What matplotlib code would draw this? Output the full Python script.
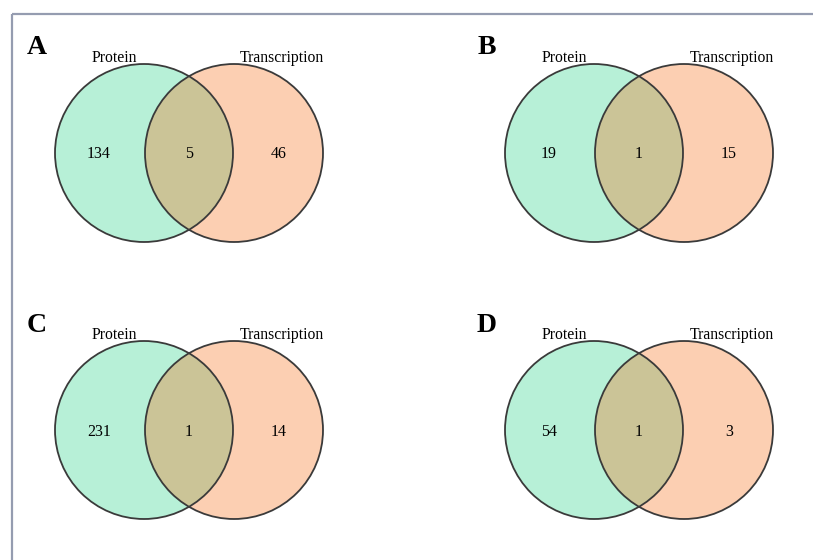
import matplotlib
matplotlib.use("Agg")
import matplotlib.pyplot as plt
from matplotlib.patches import Circle

panel_letters = ["A", "B", "C", "D"]
set_names = ["Protein", "Transcription"]
protein_only = [134, 19, 231, 54]
shared = [5, 1, 1, 1]
transcription_only = [46, 15, 14, 3]

fig = plt.figure(figsize=(8.13, 5.60), dpi=100)
ax = fig.add_axes([0, 0, 1, 1])
ax.set_xlim(0, 813)
ax.set_ylim(560, 0)
ax.set_aspect("equal")
ax.axis("off")

# frame lines (left and top)
border = "#959cb0"
ax.plot([11.5, 11.5], [13.5, 560], color=border, lw=1.6, solid_capstyle="butt")
ax.plot([11.5, 813], [13.5, 13.5], color=border, lw=1.6, solid_capstyle="butt")

green = "#b7f0d7"
orange = "#fccfb2"
olive = "#cbc497"
edge = "#3a3a3a"
serif = ["Liberation Serif", "DejaVu Serif"]

origins = [(144, 153), (594, 153), (144, 430), (594, 430)]
r = 89
d = 90

for i, (cx, cy) in enumerate(origins):
    c1 = Circle((cx, cy), r, facecolor=green, edgecolor="none", zorder=1)
    c2 = Circle((cx + d, cy), r, facecolor=orange, edgecolor="none", zorder=1)
    ax.add_patch(c1)
    ax.add_patch(c2)
    ov = Circle((cx + d, cy), r, facecolor=olive, edgecolor="none", zorder=2)
    ax.add_patch(ov)
    clip = Circle((cx, cy), r, transform=ax.transData)
    ov.set_clip_path(clip)
    ax.add_patch(Circle((cx, cy), r, facecolor="none", edgecolor=edge, lw=1.3, zorder=3))
    ax.add_patch(Circle((cx + d, cy), r, facecolor="none", edgecolor=edge, lw=1.3, zorder=3))

    ax.text(cx - 45, cy + 1.5, str(protein_only[i]), ha="center", va="center",
            fontsize=11.5, family=serif, zorder=4)
    ax.text(cx + d / 2, cy + 1.5, str(shared[i]), ha="center", va="center",
            fontsize=11.5, family=serif, zorder=4)
    ax.text(cx + d + 45, cy + 1.5, str(transcription_only[i]), ha="center", va="center",
            fontsize=11.5, family=serif, zorder=4)

    ax.text(cx - 30, cy - 95, set_names[0], ha="center", va="center",
            fontsize=11.3, family=serif)
    ax.text(cx + 138, cy - 95, set_names[1], ha="center", va="center",
            fontsize=11.3, family=serif)
    ax.text(cx - 107, cy - 105, panel_letters[i], ha="center", va="center",
            fontsize=20, fontweight="bold", family=serif)

fig.savefig("out.png", dpi=100, facecolor="white")
